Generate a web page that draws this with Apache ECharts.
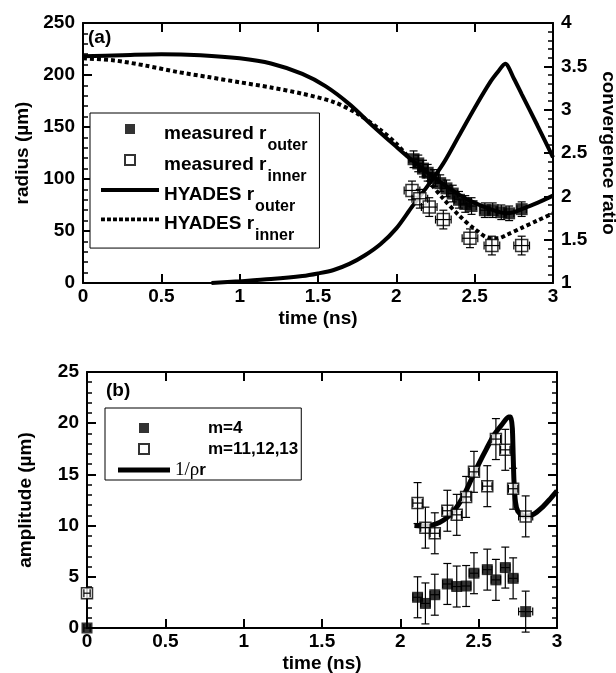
<!DOCTYPE html>
<html>
<head>
<meta charset="utf-8">
<script src="https://cdn.jsdelivr.net/npm/echarts@6/dist/echarts.min.js"></script>
<style>
html, body { margin: 0; padding: 0; background: #fff; }
#main { width: 616px; height: 673px; }
</style>
</head>
<body>
<div id="main"></div>
<script>
// ---------------- data, panel (a) ----------------
// HYADES simulation, radius in um vs time in ns
var hyadesOuter = [[0,218],[0.25,219],[0.5,220],[0.75,219],[1,216],[1.2,211],[1.4,201],[1.55,189],[1.7,172],[1.85,151],[2,131],[2.1,118],[2.2,106],[2.3,95],[2.4,85],[2.5,77],[2.6,71],[2.7,67],[2.75,68],[2.8,71],[2.9,77],[3,84]];
var hyadesInner = [[0,216],[0.2,214],[0.4,209],[0.6,203],[0.8,198],[1,193],[1.2,188],[1.4,182],[1.6,174],[1.75,163],[1.9,147],[2,134],[2.1,117],[2.2,99],[2.3,81],[2.4,65],[2.5,52],[2.6,43],[2.65,43],[2.7,46],[2.8,53],[2.9,60],[3,67]];
// convergence ratio (right axis)
var convergence = [[0.82,1],[1,1.02],[1.2,1.045],[1.4,1.08],[1.5,1.11],[1.6,1.15],[1.7,1.22],[1.8,1.32],[1.9,1.45],[2,1.63],[2.1,1.88],[2.2,2.12],[2.3,2.38],[2.4,2.7],[2.5,3.02],[2.6,3.32],[2.65,3.44],[2.695,3.53],[2.75,3.36],[2.8,3.18],[2.9,2.82],[3,2.45]];
// measured radii [t, r] and their errors [dt, dr]
var outerMeas = [[2.11,119],[2.14,115],[2.17,110],[2.2,106],[2.24,101],[2.28,96],[2.32,91],[2.36,86],[2.4,80],[2.44,76],[2.48,74],[2.565,70],[2.615,70],[2.67,68],[2.72,67],[2.8,71]];
var outerMeasErr = [[0.03,8],[0.03,8],[0.03,8],[0.03,8],[0.03,8],[0.03,8],[0.03,8],[0.03,8],[0.03,8],[0.03,8],[0.03,8],[0.03,7],[0.03,7],[0.03,7],[0.03,7],[0.03,7]];
var innerMeas = [[2.1,89],[2.15,81],[2.21,73],[2.3,61],[2.47,43],[2.61,36],[2.8,36]];
var innerMeasErr = [[0.05,9],[0.05,9],[0.05,9],[0.05,9],[0.05,9],[0.05,9],[0.05,9]];

// ---------------- data, panel (b) ----------------
var invRhoR = [[2.09,10],[2.15,9.95],[2.2,10.05],[2.25,10.3],[2.3,10.8],[2.35,11.6],[2.4,12.8],[2.45,14.4],[2.5,16],[2.55,17.5],[2.6,18.9],[2.65,19.9],[2.69,20.6],[2.705,20.6],[2.715,19.5],[2.72,17],[2.725,14.5],[2.735,12.3],[2.75,11.4],[2.78,11],[2.8,10.9],[2.85,11.1],[2.9,11.7],[2.95,12.5],[3,13.4]];
var m4 = [[0,0],[2.11,3.0],[2.16,2.4],[2.22,3.25],[2.3,4.3],[2.36,4.05],[2.42,4.1],[2.47,5.35],[2.555,5.7],[2.61,4.7],[2.67,5.9],[2.72,4.85],[2.8,1.6]];
var m4Err = [[0.02,0],[0.03,2],[0.03,2],[0.03,2],[0.03,2],[0.03,2],[0.03,2],[0.03,2],[0.03,2],[0.03,2],[0.03,2],[0.03,2],[0.045,2]];
var m111213 = [[0,3.4],[2.11,12.2],[2.16,9.8],[2.22,9.25],[2.3,11.45],[2.36,11.05],[2.42,12.8],[2.47,15.25],[2.555,13.85],[2.61,18.45],[2.67,17.4],[2.72,13.6],[2.8,10.9]];
var m111213Err = [[0.02,0],[0.03,2],[0.03,2],[0.03,2],[0.03,2],[0.03,2],[0.03,2],[0.03,2],[0.03,2],[0.03,2],[0.03,2],[0.03,2],[0.045,2]];

var FONT = "'Liberation Sans', Arial, sans-serif";

// join points with their errors -> [x, y, dx, dy]
function withErr(pts, errs) {
	var out = [];
	for (var i = 0; i < pts.length; i++) {
		out.push([pts[i][0], pts[i][1], errs[i][0], errs[i][1]]);
	}
	return out;
}

// error bar cross with caps
function errorBarItem(params, api) {
	var x = api.value(0), y = api.value(1), ex = api.value(2), ey = api.value(3);
	var l = api.coord([x - ex, y]), r = api.coord([x + ex, y]);
	var style = { stroke: '#000', lineWidth: 1.2 };
	var cap = 4;
	var children = [
		{ type: 'line', shape: { x1: l[0], y1: l[1], x2: r[0], y2: r[1] }, style: style },
		{ type: 'line', shape: { x1: l[0], y1: l[1] - cap, x2: l[0], y2: l[1] + cap }, style: style },
		{ type: 'line', shape: { x1: r[0], y1: r[1] - cap, x2: r[0], y2: r[1] + cap }, style: style }
	];
	if (ey > 0) {
		var t = api.coord([x, y + ey]), b = api.coord([x, y - ey]);
		children.push({ type: 'line', shape: { x1: t[0], y1: t[1], x2: b[0], y2: b[1] }, style: style });
		children.push({ type: 'line', shape: { x1: t[0] - cap, y1: t[1], x2: t[0] + cap, y2: t[1] }, style: style });
		children.push({ type: 'line', shape: { x1: b[0] - cap, y1: b[1], x2: b[0] + cap, y2: b[1] }, style: style });
	}
	return { type: 'group', children: children };
}

function axisBase(gridIndex, min, max, interval, pos, showLabel, minor) {
	return {
		type: 'value', gridIndex: gridIndex, position: pos,
		min: min, max: max, interval: interval,
		axisLine: { show: true, onZero: false, lineStyle: { color: '#000', width: 2 } },
		axisTick: { show: true, inside: true, length: 9, lineStyle: { color: '#000', width: 2 } },
		minorTick: { show: minor, splitNumber: 5, length: 5, lineStyle: { color: '#000', width: 1.5 } },
		splitLine: { show: false },
		axisLabel: { show: showLabel, color: '#000', fontFamily: FONT, fontWeight: 'bold', fontSize: 19, margin: 4 },
		nameTextStyle: { color: '#000', fontFamily: FONT, fontWeight: 'bold', fontSize: 19 }
	};
}

// legend icons: invisible moveTo points fix the bounding box so the mark keeps its place
var sqIconA = 'path://M0,0M58,30M24,5h10v10h-10z';
var solidIconA = 'path://M0,0M58,30M0,8h58v4h-58z';
var dottedIconA = 'path://M0,0M58,30';
for (var dx = 0; dx < 58; dx += 6.4) {
	dottedIconA += 'M' + dx.toFixed(1) + ',8h4.2v4h-4.2z';
}
var sqIconB = 'path://M0,0M52,20M21,5h10v10h-10z';
var solidIconB = 'path://M0,0M52,20M0,7.5h52v5h-52z';

function subscriptName(name) {
	var parts = name.split('_');
	return '{m|' + parts[0] + '}{s|' + parts[1] + '}';
}

var xA = axisBase(0, 0, 3, 0.5, 'bottom', true, false);
xA.name = 'time (ns)'; xA.nameLocation = 'middle'; xA.nameGap = 26;
var xAtop = axisBase(0, 0, 3, 0.5, 'top', false, false);
var yA = axisBase(0, 0, 250, 50, 'left', true, true);
yA.name = 'radius (\u00b5m)'; yA.nameLocation = 'middle'; yA.nameGap = 48; yA.nameRotate = 90;
yA.axisLabel.margin = 8;
var yAright = axisBase(0, 1, 4, 0.5, 'right', true, true);
yAright.name = 'convergence ratio'; yAright.nameLocation = 'middle'; yAright.nameGap = 34; yAright.nameRotate = -90;
yAright.axisLabel.margin = 8;

var xB = axisBase(1, 0, 3, 0.5, 'bottom', true, false);
xB.name = 'time (ns)'; xB.nameLocation = 'middle'; xB.nameGap = 26;
var xBtop = axisBase(1, 0, 3, 0.5, 'top', false, false);
var yB = axisBase(1, 0, 25, 5, 'left', true, true);
yB.name = 'amplitude (\u00b5m)'; yB.nameLocation = 'middle'; yB.nameGap = 52; yB.nameRotate = 90;
yB.axisLabel.margin = 8;
var yBright = axisBase(1, 0, 25, 5, 'right', false, true);

var chart = echarts.init(document.getElementById('main'));
var option = {
	animation: false,
	title: [
		{ text: '(a)', left: 88, top: 28, padding: 0, textStyle: { fontFamily: FONT, fontWeight: 'bold', fontSize: 19, color: '#000' } },
		{ text: '(b)', left: 106, top: 381, padding: 0, textStyle: { fontFamily: FONT, fontWeight: 'bold', fontSize: 19, color: '#000' } }
	],
	grid: [
		{ left: 83, top: 23, width: 470, height: 260, outerBoundsMode: 'none' },
		{ left: 87, top: 372, width: 470, height: 256, outerBoundsMode: 'none' }
	],
	xAxis: [xA, xAtop, xB, xBtop],
	yAxis: [yA, yAright, yB, yBright],
	legend: [{
		orient: 'vertical', left: 90, top: 113,
		padding: [6, 12, 4, 10], itemWidth: 58, itemHeight: 30, itemGap: -5,
		borderColor: '#000', borderWidth: 1, backgroundColor: '#fff',
		selectedMode: false,
		data: [
			{ name: 'measured r_outer', icon: sqIconA },
			{ name: 'measured r_inner', icon: sqIconA },
			{ name: 'HYADES r_outer', icon: solidIconA },
			{ name: 'HYADES r_inner', icon: dottedIconA }
		],
		formatter: subscriptName,
		textStyle: {
			color: '#000',
			rich: {
				m: { fontFamily: FONT, fontWeight: 'bold', fontSize: 19, lineHeight: 20, verticalAlign: 'top' },
				s: { fontFamily: FONT, fontWeight: 'bold', fontSize: 16, lineHeight: 16, verticalAlign: 'top', padding: [14, 0, 0, 1] }
			}
		}
	}, {
		orient: 'vertical', left: 105, top: 408,
		padding: [10, 3, 0, 12], itemWidth: 52, itemHeight: 20, itemGap: 0,
		borderColor: '#000', borderWidth: 1, backgroundColor: '#fff',
		selectedMode: false,
		data: [
			{ name: 'm=4', icon: sqIconB },
			{ name: 'm=11,12,13', icon: sqIconB },
			{ name: '1/\u03c1r', icon: solidIconB }
		],
		formatter: function (name) {
			if (name === '1/\u03c1r') return '{g|1/\u03c1}{b|r}';
			return '{p|' + name + '}';
		},
		textStyle: {
			color: '#000',
			rich: {
				p: { fontFamily: FONT, fontWeight: 'bold', fontSize: 17, padding: [0, 0, 0, 33] },
				g: { fontFamily: "'Liberation Serif', serif", fontSize: 19 },
				b: { fontFamily: FONT, fontWeight: 'bold', fontSize: 17 }
			}
		}
	}],
	series: [
		// panel (a)
		{ name: 'HYADES r_outer', type: 'line', xAxisIndex: 0, yAxisIndex: 0, data: hyadesOuter, smooth: 0.3, symbol: 'none', z: 2,
		  lineStyle: { color: '#000', width: 4 }, itemStyle: { color: '#000', borderWidth: 0 } },
		{ name: 'HYADES r_inner', type: 'line', xAxisIndex: 0, yAxisIndex: 0, data: hyadesInner, smooth: 0.3, symbol: 'none', z: 2,
		  lineStyle: { color: '#000', width: 4, type: [4, 3] }, itemStyle: { color: '#000', borderWidth: 0 } },
		{ name: 'convergence', type: 'line', xAxisIndex: 0, yAxisIndex: 1, data: convergence, smooth: 0.3, symbol: 'none', z: 2,
		  lineStyle: { color: '#000', width: 4 } },
		{ name: 'measured r_outer', type: 'scatter', xAxisIndex: 0, yAxisIndex: 0, data: outerMeas, symbol: 'rect', symbolSize: 12, z: 3, clip: false,
		  itemStyle: { color: '#000', borderColor: '#000', borderWidth: 0 } },
		{ name: 'measured r_inner', type: 'scatter', xAxisIndex: 0, yAxisIndex: 0, data: innerMeas, symbol: 'rect', symbolSize: 12, z: 3, clip: false,
		  itemStyle: { color: '#fff', borderColor: '#000', borderWidth: 1.5 } },
		{ type: 'custom', xAxisIndex: 0, yAxisIndex: 0, data: withErr(outerMeas, outerMeasErr), renderItem: errorBarItem, z: 4 },
		{ type: 'custom', xAxisIndex: 0, yAxisIndex: 0, data: withErr(innerMeas, innerMeasErr), renderItem: errorBarItem, z: 4 },
		// panel (b)
		{ name: '1/\u03c1r', type: 'line', xAxisIndex: 2, yAxisIndex: 2, data: invRhoR, smooth: 0.2, symbol: 'none', z: 2,
		  lineStyle: { color: '#000', width: 5 }, itemStyle: { color: '#000', borderWidth: 0 } },
		{ name: 'm=4', type: 'scatter', xAxisIndex: 2, yAxisIndex: 2, data: m4, symbol: 'rect', symbolSize: 11, z: 3, clip: false,
		  itemStyle: { color: '#000', borderColor: '#000', borderWidth: 0 } },
		{ name: 'm=11,12,13', type: 'scatter', xAxisIndex: 2, yAxisIndex: 2, data: m111213, symbol: 'rect', symbolSize: 11, z: 3, clip: false,
		  itemStyle: { color: '#fff', borderColor: '#000', borderWidth: 1.5 } },
		{ type: 'custom', xAxisIndex: 2, yAxisIndex: 2, data: withErr(m4, m4Err), renderItem: errorBarItem, z: 4 },
		{ type: 'custom', xAxisIndex: 2, yAxisIndex: 2, data: withErr(m111213, m111213Err), renderItem: errorBarItem, z: 4 }
	]
};
chart.setOption(option);
</script>
</body>
</html>
